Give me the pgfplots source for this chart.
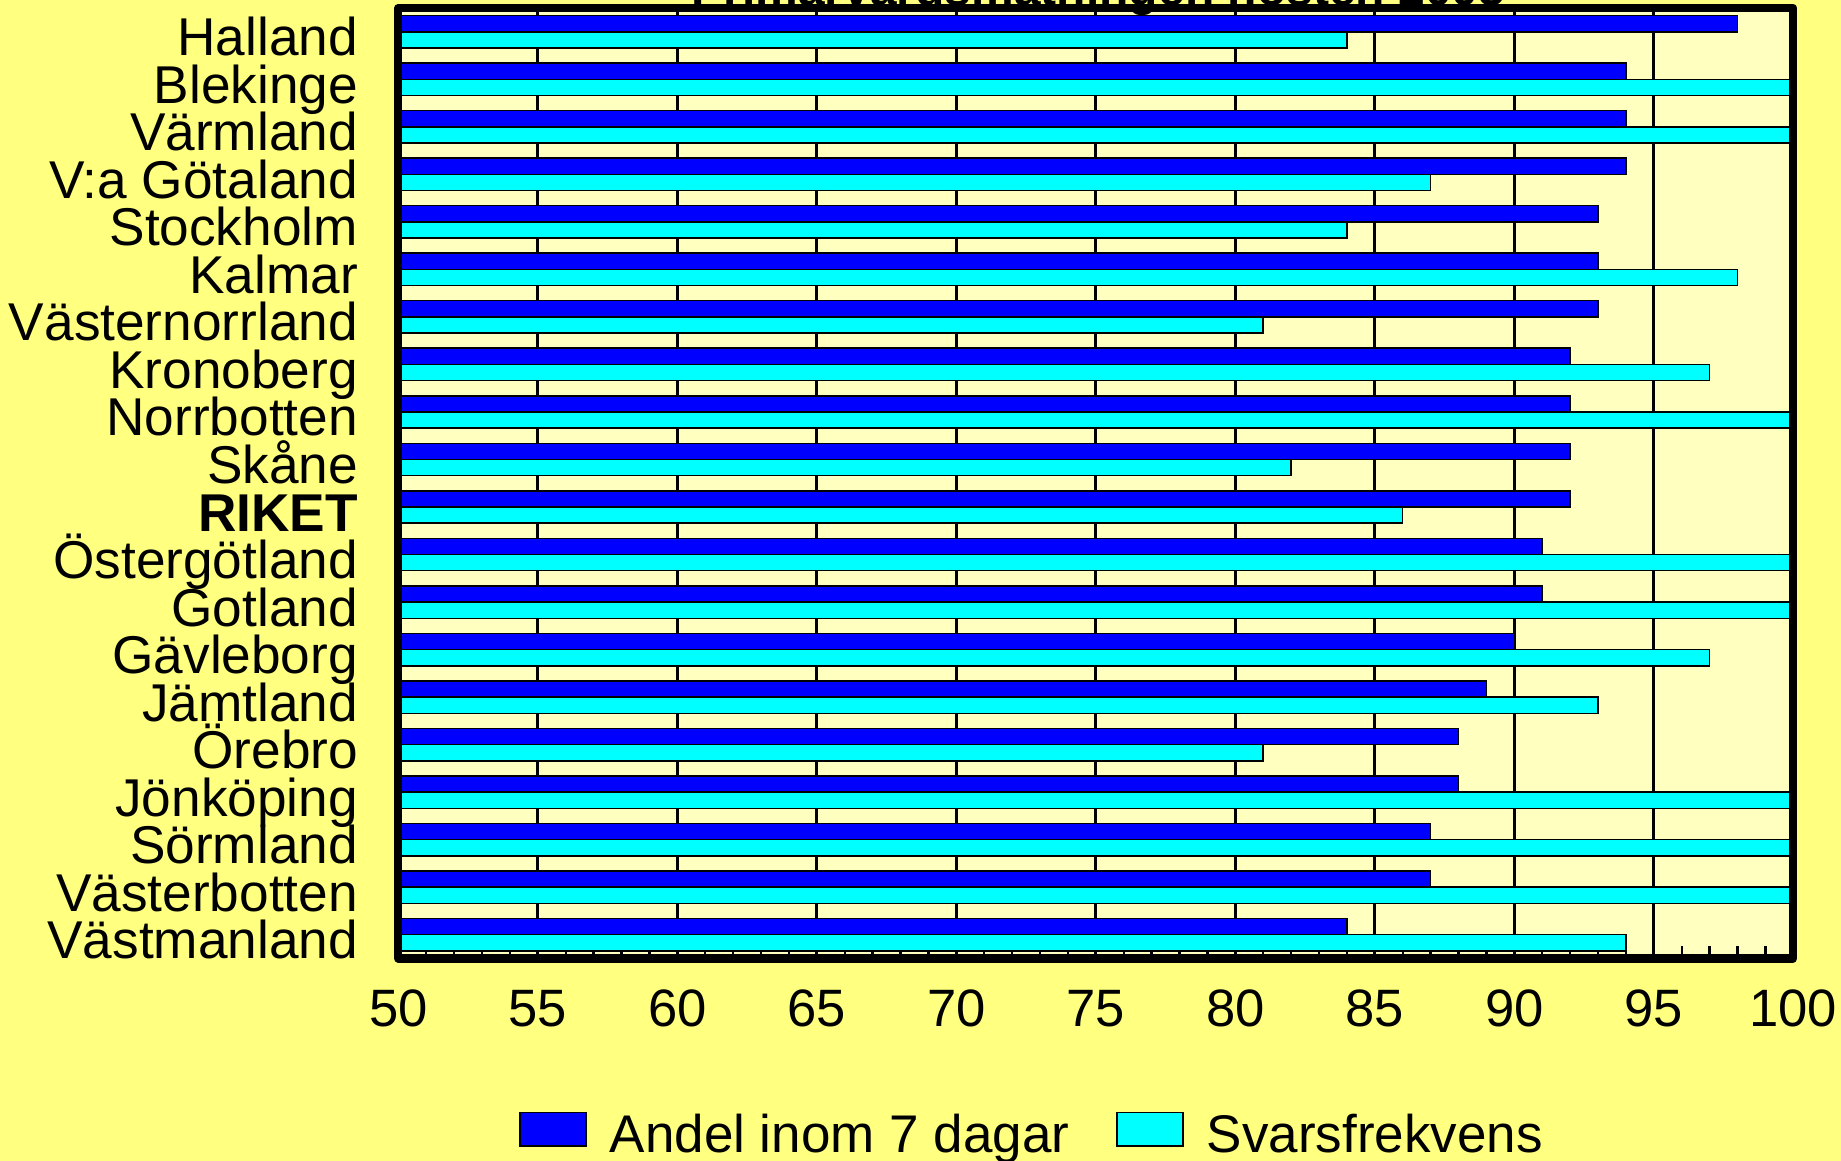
\documentclass[border=0pt]{standalone}
\usepackage{pgfplots}
\pgfplotsset{compat=1.18}
\usepackage{fontspec}
\setmainfont{Liberation Sans}
\definecolor{bgyellow}{RGB}{255,255,128}
\definecolor{plotbg}{RGB}{255,255,192}
\definecolor{barblue}{RGB}{0,0,255}
\definecolor{barcyan}{RGB}{0,255,255}

\pgfplotsset{boxlegend/.style={legend image code/.code={\draw[##1] (0bp,3.35bp) rectangle (33bp,20bp);}}}

% y index 0 = bottom (Västmanland) ... 19 = top (Halland)
\pgfplotstableread{
y andel svar
0 84 94
1 87 100
2 87 100
3 88 100
4 88 81
5 89 93
6 90 97
7 91 100
8 91 100
9 92 86
10 92 82
11 92 100
12 92 97
13 93 81
14 93 98
15 93 84
16 94 87
17 94 100
18 94 100
19 98 84
}\datatable

\begin{document}
\begin{tikzpicture}
\path[use as bounding box, fill=bgyellow] (0,0) rectangle (920.5bp,580.5bp);
\begin{axis}[
  at={(199.15bp,101.25bp)}, anchor=south west,
  scale only axis, width=697.5bp, height=475.25bp,
  xmin=50, xmax=100, ymin=-0.5, ymax=19.5,
  xbar, bar width=8.1bp,
  axis background/.style={fill=plotbg},
  axis line style={draw=none},
  xtick={50,55,...,100},
  minor x tick num=4,
  xmajorgrids,
  major grid style={black, line width=1.5bp},
  xtick pos=left,
  tick align=inside,
  major tick length=6bp, minor tick length=6bp,
  xtick style={black, line width=1.2bp},
  ytick={0,...,19},
  ytick style={draw=none},
  yticklabels={V\"astmanland,V\"asterbotten,S\"ormland,J\"onk\"oping,\"Orebro,J\"amtland,G\"avleborg,Gotland,\"Osterg\"otland,\textbf{RIKET},Sk\aa ne,Norrbotten,Kronoberg,V\"asternorrland,Kalmar,Stockholm,V:a G\"otaland,V\"armland,Blekinge,Halland},
  /pgf/number format/assume math mode=true,
  ticklabel style={inner sep=0pt},
  yticklabel style={font=\fontsize{26.7pt}{30pt}\selectfont, anchor=base east, xshift=-20bp, yshift=-12bp},
  xticklabel style={font=\fontsize{26.4pt}{30pt}\selectfont, anchor=base, yshift=-34.1bp},
  title={Prim\"arv\aa rdsm\"atningen h\"osten 2005},
  title style={at={(axis description cs:0.5018,1.00105)}, anchor=base, yshift=-5bp, inner sep=0pt, font=\bfseries\fontsize{24.1pt}{28pt}\selectfont},
  legend columns=2,
  legend style={at={(axis description cs:0.0867,-0.1612)}, anchor=north west,
    draw=none, fill=none, inner sep=0pt, outer sep=0pt,
    font=\fontsize{26.6pt}{30pt}\selectfont,
    nodes={inner sep=0pt}, cells={anchor=base west},
    /tikz/every odd column/.append style={column sep=11.5bp},
    /tikz/every even column/.append style={column sep=23.5bp}},
  extra description/.code={\draw[black, line width=4bp, line join=round] (0,0) rectangle (1,1);},
]
\addplot[fill=barblue, draw=black, line width=0.75bp, bar shift=4.05bp, boxlegend]
  table[x=andel, y=y] {\datatable};
\addlegendentry{Andel inom 7 dagar}
\addplot[fill=barcyan, draw=black, line width=0.75bp, bar shift=-4.05bp, boxlegend]
  table[x=svar, y=y] {\datatable};
\addlegendentry{Svarsfrekvens}
\end{axis}
\end{tikzpicture}
\end{document}
